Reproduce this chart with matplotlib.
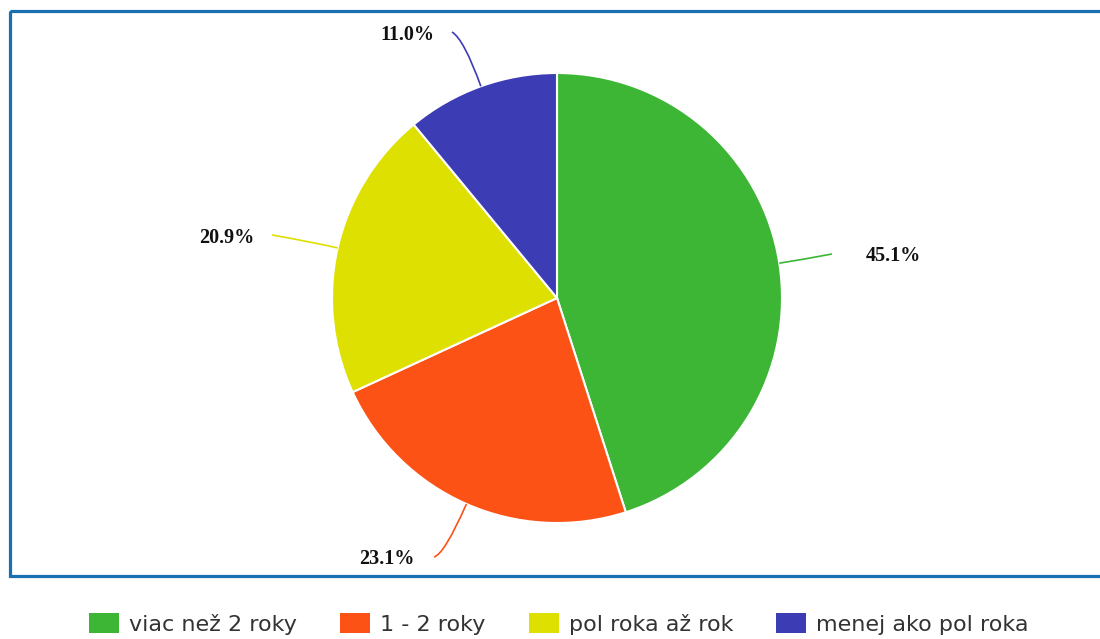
import numpy as np
import matplotlib.pyplot as plt
from matplotlib.patches import Patch, Rectangle, PathPatch
from matplotlib.path import Path

# podiely odpovedí (%)
kategorie = ['viac než 2 roky', '1 - 2 roky', 'pol roka až rok', 'menej ako pol roka']
hodnoty = [45.1, 23.1, 20.9, 11.0]
farby = ['#3db535', '#fc5216', '#dde000', '#3c3db5']

# kam idú popisky (pixely, y smerom dole)
popisky_xy = [(893, 256), (387, 559), (227, 238), (407, 35)]
konce_ciar = [(832, 254), (434, 557), (272, 235), (452, 32)]
dlzka_ohybu = [25, 55, 30, 50]

W, H = 1100, 639
fig = plt.figure(figsize=(W / 100, H / 100), dpi=100)
ax = fig.add_axes([0, 0, 1, 1])

cx, cy, r = 557, 298, 225
wedges, _ = ax.pie(hodnoty, colors=farby, startangle=-90, counterclock=True,
                   center=(cx, cy), radius=r,
                   wedgeprops=dict(edgecolor='white', linewidth=1.5))
ax.set_xlim(0, W)
ax.set_ylim(H, 0)
ax.set_aspect('auto')
ax.axis('off')

# vodiace čiary a percentá
for w, val, (tx, ty), (ex, ey), d, c in zip(wedges, hodnoty, popisky_xy,
                                             konce_ciar, dlzka_ohybu, farby):
    uhol = np.deg2rad((w.theta1 + w.theta2) / 2)
    dx, dy = np.cos(uhol), np.sin(uhol)
    p0 = (cx + r * dx, cy + r * dy)
    p1 = (p0[0] + d * dx, p0[1] + d * dy)
    cesta = Path([p0, p1, (ex, ey)], [Path.MOVETO, Path.CURVE3, Path.CURVE3])
    ax.add_patch(PathPatch(cesta, fill=False, edgecolor=c, linewidth=1.2))
    ax.text(tx, ty, f'{val:.1f}%', ha='center', va='center', fontsize=14.5,
            fontweight='bold', family='Liberation Serif', color='#111111')

# modrý rámik okolo grafu
ax.add_patch(Rectangle((9.5, 10.5), 1100, 565, fill=False, edgecolor='#1a6fb0',
                       linewidth=2.3, clip_on=False))

handles = [Patch(facecolor=c, edgecolor='none') for c in farby]
fig.legend(handles, kategorie, loc='center', bbox_to_anchor=(559 / W, 1 - 624 / H),
           ncol=4, frameon=False, fontsize=16, handlelength=1.35, handleheight=0.95,
           handletextpad=0.45, columnspacing=1.94, borderpad=0, labelcolor='#333333')

fig.savefig('out.png', dpi=100)
